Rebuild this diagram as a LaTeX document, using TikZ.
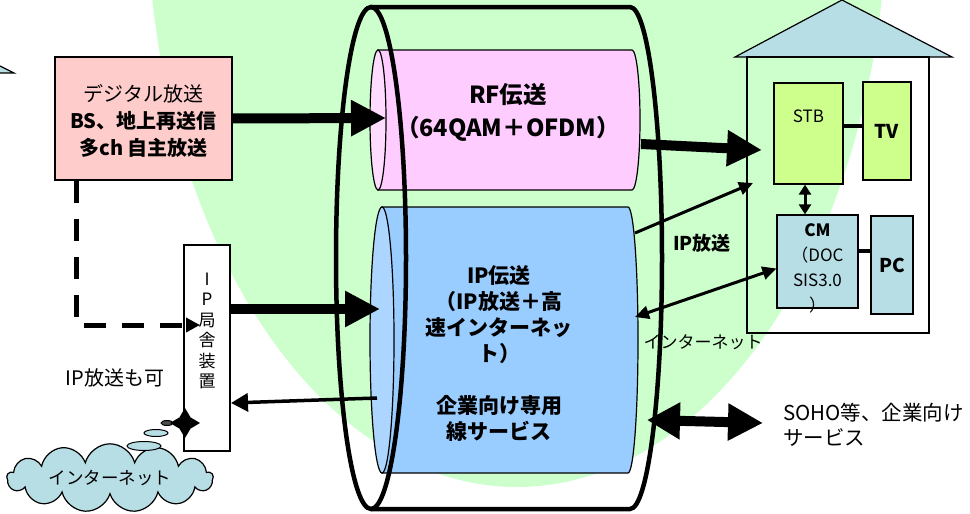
\documentclass[tikz,border=0pt]{standalone}
\usepackage{fontspec}
\setmainfont{Noto Sans CJK JP}
\usepackage{tikz}
\usetikzlibrary{shapes,arrows.meta}

\definecolor{bggreen}{RGB}{204,255,204}
\definecolor{rfpink}{RGB}{255,204,255}
\definecolor{rfface}{RGB}{255,220,255}
\definecolor{ipblue}{RGB}{153,204,255}
\definecolor{ipface}{RGB}{172,214,255}
\definecolor{boxpink}{RGB}{255,204,204}
\definecolor{lightcyan}{RGB}{183,221,229}
\definecolor{stbgreen}{RGB}{206,255,140}

\begin{document}
\begin{tikzpicture}[x=1pt, y=-1pt, thick,
  bigarrow/.style={line width=10pt, -{Triangle[length=35pt,width=34pt]}},
  midarrow/.style={line width=3.5pt, -{Triangle[length=17pt,width=18pt]}},
  thinarrow/.style={line width=3pt, -{Triangle[length=14pt,width=13pt]}},
  dblarrow/.style={line width=3pt, {Triangle[length=14pt,width=13pt]}-{Triangle[length=14pt,width=13pt]}},
  fatdbl/.style={line width=10pt, {Triangle[length=33pt,width=35pt]}-{Triangle[length=35pt,width=35pt]}},
  dasharrow/.style={line width=5pt, dash pattern=on 22pt off 16pt, -{Triangle[length=14pt,width=14pt]}},
  tinydbl/.style={line width=3pt, {Triangle[length=10pt,width=12pt]}-{Triangle[length=10pt,width=12pt]}},
  link/.style={line width=4pt},
  box/.style={draw, line width=1.2pt, inner sep=0pt},
  lbl/.style={font=\fontsize{19}{26}\selectfont, align=center, inner sep=0pt}]
\useasboundingbox (0,0) rectangle (970,514);

% green area behind the network
\begin{scope}
\clip (0,0) rectangle (970,514);
\fill[bggreen] (517,-100) ellipse [x radius=370, y radius=587];
\end{scope}

% corner of the roof on the left
\filldraw[fill=lightcyan, line width=1.2pt] (0,66) -- (14,73) -- (0,73);

% house
\filldraw[fill=lightcyan, line width=1.2pt] (735,57) -- (842,0) -- (952,57) -- cycle;
\draw[line width=1.2pt] (747,57) rectangle (929,333);

% RF cylinder
\filldraw[fill=rfpink, line width=1.2pt] (378,50) -- (632,50)
  arc[start angle=-90, end angle=90, x radius=8, y radius=70] -- (378,190) -- cycle;
\filldraw[fill=rfface, line width=1.2pt] (378,120) ellipse [x radius=8, y radius=70];
\node[lbl, font=\fontsize{23.5}{33}\selectfont\bfseries] (rf) at (508,112)
  {RF伝送\\（64QAM＋OFDM）};

% IP cylinder
\filldraw[fill=ipblue, line width=1.2pt] (382,207) -- (628,207)
  arc[start angle=-90, end angle=90, x radius=10, y radius=133] -- (382,473) -- cycle;
\filldraw[fill=ipface, line width=1.2pt] (382,340) ellipse [x radius=12, y radius=133];
\node[lbl, font=\fontsize{21}{26}\selectfont\bfseries] (ip) at (499,354)
  {IP伝送\\（IP放送＋高\\速インターネッ\\ト）\\[26pt]企業向け専用\\線サービス};

% outer cable
\draw[line width=4.5pt] (371,7) -- (630,7)
  arc[start angle=-90, end angle=90, x radius=32, y radius=251] -- (371,509);
\draw[line width=4.5pt] (371,258) ellipse [x radius=35, y radius=251];

% head end
\node[box, fill=boxpink, minimum width=177pt, minimum height=123pt] (digital) at (143.5,118.5) {};
\node[lbl, font=\fontsize{20}{27}\selectfont] at (143.5,121)
  {デジタル放送\\\textbf{BS、地上再送信}\\\textbf{多ch 自主放送}};
\node[box, fill=white, minimum width=46pt, minimum height=206pt] (ipbox) at (207,348) {};
\node[lbl, font=\fontsize{17}{20.5}\selectfont] at (207,331) {I\\P\\局\\舎\\装\\置};
\node[lbl, font=\fontsize{20}{26}\selectfont] (mayip) at (115,378) {IP放送も可};

% internet cloud
\node[cloud, draw, line width=1.2pt, fill=lightcyan, cloud puffs=13, aspect=4.6,
  minimum width=206pt, minimum height=46pt, inner sep=0pt,
  font=\fontsize{17.5}{20}\selectfont] (net) at (110,478) {インターネット};
\filldraw[fill=lightcyan, line width=1pt] (144,446) ellipse [x radius=17, y radius=4.5];
\filldraw[fill=lightcyan, line width=1pt] (156,433) ellipse [x radius=12, y radius=3.5];
\filldraw[fill=black!70, line width=1pt] (167,423) ellipse [x radius=6, y radius=2.5];
\node[star, star points=4, star point ratio=1.9, fill=black, minimum size=30pt,
  inner sep=0pt] (spark) at (185,423) {};

% devices in the house
\node[box, fill=stbgreen, minimum width=69pt, minimum height=101pt] (stb) at (808.5,133.5) {};
\path (stb.north) ++(0,34) node[lbl, font=\fontsize{17}{20}\selectfont] {STB};
\node[box, fill=stbgreen, minimum width=48pt, minimum height=98pt,
  font=\fontsize{19}{22}\selectfont\bfseries] (tv) at (887,131) {TV};
\node[box, fill=lightcyan, minimum width=81pt, minimum height=93pt] (cm) at (817.5,261.5) {};
\node[lbl, font=\fontsize{17}{25}\selectfont] at (817.5,268)
  {\textbf{CM}\\（DOC\\SIS3.0\\）};
\node[box, fill=lightcyan, minimum width=42pt, minimum height=98pt,
  font=\fontsize{19}{22}\selectfont\bfseries] (pc) at (892,265) {PC};
\draw[link] ([yshift=8pt]stb.east) -- ([yshift=8pt]stb.east -| tv.west);
\draw[link] ([yshift=11pt]cm.east) -- ([yshift=11pt]cm.east -| pc.west);
\draw[tinydbl] (stb.south -| 805,0) -- (cm.north -| 805,0);

% ends of the connectors on the cylinders
\coordinate (rfin) at (386,118);
\coordinate (rfout) at (641,144);
\coordinate (home) at (762,150);
\coordinate (ipin) at (380,309);
\coordinate (ipback) at (377,398);
\coordinate (ipret) at (231,403);
\coordinate (ipcast) at (635,233);
\coordinate (castend) at (753,183);
\coordinate (ipnet) at (635,317);
\coordinate (ipsoho) at (647,420);
\coordinate (sohoend) at (763,423);
\coordinate (dashend) at (200,325);

% connectors
\draw[bigarrow] (digital.east) -- (rfin);
\draw[bigarrow] (rfout) -- (home);
\draw[bigarrow] (ipbox.east |- ipin) -- (ipin);
\draw[midarrow] (ipback) -- (ipret);
\draw[dasharrow] ([xshift=22pt]digital.south west) |- (dashend);
\draw[thinarrow] (ipcast) -- (castend);
\draw[dblarrow] (ipnet) -- ([yshift=-7pt]cm.west);
\draw[fatdbl] (ipsoho) -- (sohoend);

% labels
\node[lbl, font=\fontsize{19}{22}\selectfont\bfseries] (castlbl) at (702,243) {IP放送};
\node[lbl, font=\fontsize{17}{20}\selectfont] (netlbl) at (703,342) {インターネット};
\node[lbl, align=left, anchor=west, font=\fontsize{20.5}{25}\selectfont] (soho) at (783,425)
  {SOHO等、企業向け\\サービス};
\end{tikzpicture}
\end{document}
